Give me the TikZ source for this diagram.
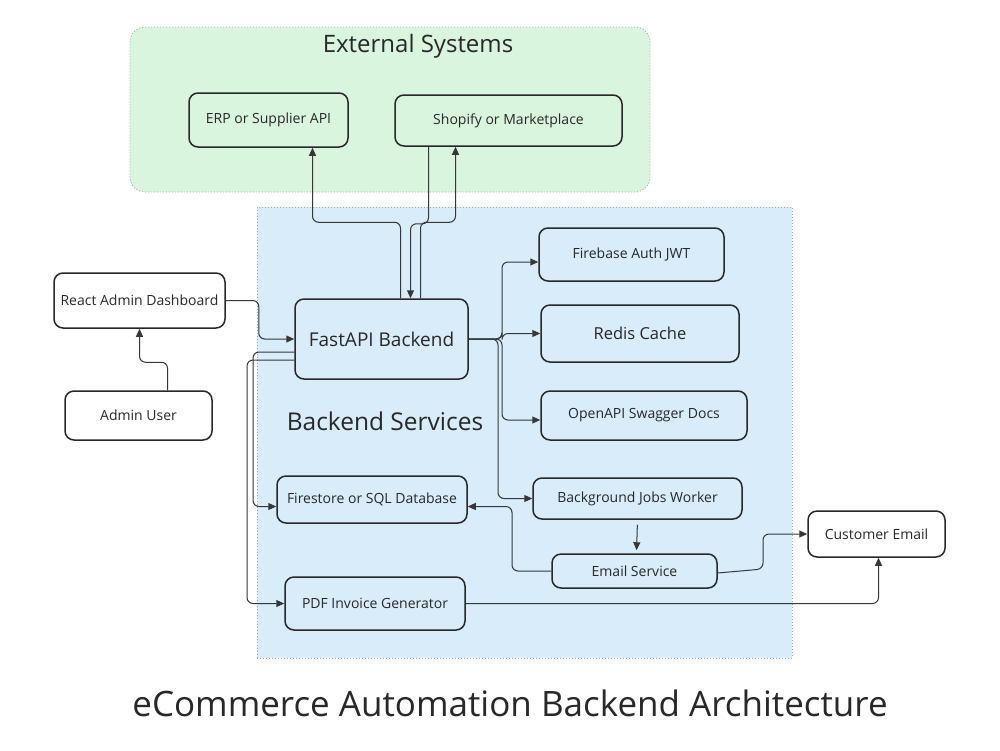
\documentclass[tikz,border=0pt]{standalone}
\usepackage{fontspec}
\setmainfont{Open Sans}
\usetikzlibrary{arrows.meta}
\definecolor{extgreen}{RGB}{217,245,222}
\definecolor{bkblue}{RGB}{216,236,250}
\definecolor{inkc}{RGB}{40,40,40}
\definecolor{linec}{RGB}{55,55,55}
\tikzset{
  container/.style={draw=gray!70, dash pattern=on 1pt off 2pt, line width=0.9pt},
  box/.style={draw=inkc, line width=1.5pt, rounded corners=9pt, inner sep=0pt, text=inkc,
    font=\fontsize{14}{17}\selectfont},
  whitebox/.style={box, fill=white},
  conn/.style={draw=linec, line width=1pt, rounded corners=6pt, -{Triangle[length=8pt,width=7pt]}},
  grouptitle/.style={text=inkc, font=\fontsize{24}{29}\selectfont}
}
\begin{document}
\begin{tikzpicture}[x=1pt,y=-1pt]
\useasboundingbox (0,0) rectangle (1000,750);
\fill[white] (0,0) rectangle (1000,750);

% containers
\node[container, fill=extgreen, rounded corners=15pt, minimum width=520pt, minimum height=165pt] (ext) at (390,109.5) {};
\node[grouptitle] (exttitle) at (418,46) {External Systems};
\node[container, fill=bkblue, minimum width=535pt, minimum height=451pt] (bk) at (524.5,432.5) {};
\node[grouptitle, font=\fontsize{24.5}{29}\selectfont] (bktitle) at (385,421) {Backend Services};

% nodes
\node[box, minimum width=159pt, minimum height=54pt] (erp) at (268.5,120) {ERP or Supplier API};
\node[box, minimum width=227pt, minimum height=51pt] (shop) at (508.5,120.5) {Shopify or Marketplace};
\node[whitebox, minimum width=171pt, minimum height=55pt] (react) at (139.5,300.5) {React Admin Dashboard};
\node[whitebox, minimum width=147pt, minimum height=49pt] (admin) at (138.5,415.5) {Admin User};
\node[box, minimum width=173pt, minimum height=80pt, font=\fontsize{19}{23}\selectfont] (fastapi) at (381.5,339) {FastAPI Backend};
\node[box, minimum width=185pt, minimum height=53pt] (firebase) at (631.5,254.5) {Firebase Auth JWT};
\node[box, minimum width=198pt, minimum height=57pt, font=\fontsize{16.5}{20}\selectfont] (redis) at (640,333.5) {Redis Cache};
\node[box, minimum width=206pt, minimum height=49pt] (openapi) at (644,415.5) {OpenAPI Swagger Docs};
\node[box, minimum width=190pt, minimum height=47pt] (firestore) at (372,499.5) {Firestore or SQL Database};
\node[box, minimum width=209pt, minimum height=41pt] (bg) at (637.5,498.5) {Background Jobs Worker};
\node[box, minimum width=165pt, minimum height=34pt] (email) at (634.5,571) {Email Service};
\node[whitebox, minimum width=137pt, minimum height=46pt] (customer) at (876.5,534) {Customer Email};
\node[box, minimum width=180pt, minimum height=53pt] (pdf) at (375,603.5) {PDF Invoice Generator};

% connectors
\draw[conn] ([xshift=19pt]fastapi.north) -- ++(0,-76) -| ([xshift=44pt]erp.south);
\draw[conn] ([xshift=-80pt]shop.south) -- ++(0,77) -| ([xshift=29pt]fastapi.north);
\draw[conn] ([xshift=39pt]fastapi.north) -- ++(0,-76) -| ([xshift=-53pt]shop.south);
\draw[conn] (react.east) -- ++(33,0) |- (fastapi.west);
\draw[conn] ([xshift=29pt]admin.north) -- ++(0,-28) -| (react.south);
\draw[conn] ([yshift=-13pt]fastapi.west) -- (253,352) |- ([yshift=-7pt]firestore.west);
\draw[conn] ([yshift=-21pt]fastapi.west) -- (247,360) |- (pdf.west);
\draw[conn] (fastapi.east) -- (502,339) |- ([yshift=-7.5pt]firebase.west);
\draw[conn] (fastapi.east) -- (502,339) |- (redis.west);
\draw[conn] (fastapi.east) -- (502,339) |- ([yshift=-4.5pt]openapi.west);
\draw[conn] (fastapi.east) -- (498,339) |- (bg.west);
\draw[conn, shorten <=5pt, shorten >=3pt] (bg.south) -- ([xshift=2pt]email.north);
\draw[conn] (email.west) -- (512,571) |- ([yshift=-7pt]firestore.east);
\draw[conn] ([yshift=-2pt]email.east) -- (763,569) |- (customer.west);
\draw[conn] (pdf.east) -| ([xshift=2pt]customer.south);

% title
\node[text=inkc, font=\fontsize{35}{40}\selectfont] (title) at (510,703) {eCommerce Automation Backend Architecture};
\end{tikzpicture}
\end{document}
